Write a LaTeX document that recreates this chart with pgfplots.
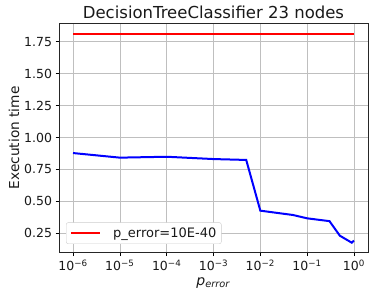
\documentclass[border=0pt]{standalone}
\usepackage{pgfplots}
\pgfplotsset{compat=1.18}
\usepackage{fontspec}
\setmainfont{DejaVu Sans}
\begin{document}
\begin{tikzpicture}
\useasboundingbox (0,0) rectangle (374pt,296pt);
\begin{axis}[
  at={(59pt,43.3pt)}, anchor=south west,
  scale only axis, width=309pt, height=229.7pt,
  xmode=log, log basis x=10,
  xmin=5.0119e-7, xmax=1.9953, ymin=0.098, ymax=1.896,
  xtick={1e-6,1e-5,1e-4,1e-3,1e-2,1e-1,1},
  xticklabels={10\textsuperscript{−6},10\textsuperscript{−5},10\textsuperscript{−4},10\textsuperscript{−3},10\textsuperscript{−2},10\textsuperscript{−1},10\textsuperscript{0}},
  minor xtick={},
  ytick={0.25,0.5,0.75,1,1.25,1.5,1.75},
  yticklabel style={/pgf/number format/fixed,/pgf/number format/fixed zerofill,/pgf/number format/precision=2},
  /pgf/number format/assume math mode=true,
  tick label style={font=\fontsize{12.5}{14}\selectfont, text=black!90},
  tick align=outside, major tick length=3.5pt,
  tick style={black, line width=0.6pt},
  xtick pos=bottom, ytick pos=left,
  grid=major, major grid style={color=black!25, line width=0.6pt},
  axis line style={line width=0.8pt, black!85},
  title={DecisionTreeClassifier 23 nodes},
  title style={font=\fontsize{16.5}{18}\selectfont, yshift=-5pt, text=black!90},
  ylabel={Execution time},
  ylabel style={font=\fontsize{13.7}{15}\selectfont, yshift=-2pt, text=black!90},
  xlabel={\textit{p}\textsubscript{\textit{error}}},
  xlabel style={font=\fontsize{14}{16}\selectfont, yshift=0pt, text=black!90},
  legend style={font=\fontsize{13}{15}\selectfont, draw=black!20, rounded corners=2pt,
    at={(0.0227,0.038)}, anchor=south west, inner xsep=3pt, inner ysep=3pt, text=black!90},
  legend cell align=left,
  legend image code/.code={\path[draw=none,fill=none] (0pt,-5pt) rectangle (42pt,5pt); \draw[#1] (2pt,0pt) -- (31pt,0pt);},
]
\addplot[red, line width=2pt] coordinates {(1e-6,1.81) (1,1.81)};
\addlegendentry{p\_error=10E-40}
\addplot[blue, line width=2pt] coordinates {
(1e-6,0.878) (1e-5,0.842) (1e-4,0.849) (1e-3,0.831) (5e-3,0.824)
(1e-2,0.427) (5e-2,0.393) (1e-1,0.367) (3e-1,0.345) (5e-1,0.231)
(9e-1,0.176) (1,0.193)};
\end{axis}
\end{tikzpicture}
\end{document}
